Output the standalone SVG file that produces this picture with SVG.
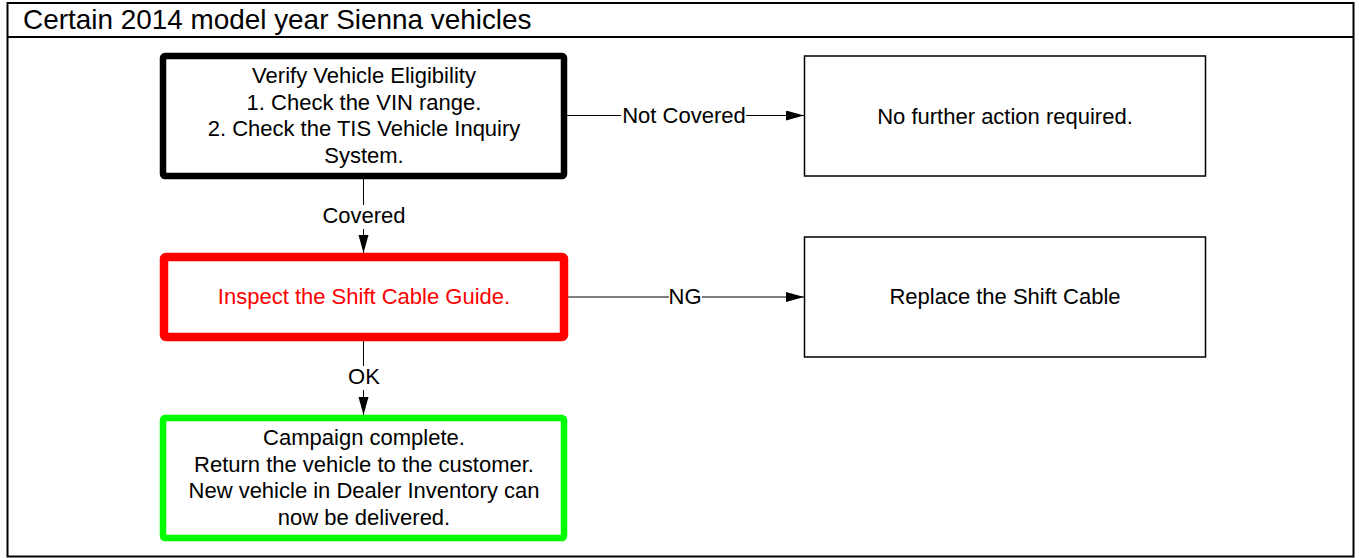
<svg xmlns="http://www.w3.org/2000/svg" width="1359" height="558" viewBox="0 0 1359 558">
<style>
text{font-family:"Liberation Sans",Arial,sans-serif;font-size:22px;fill:#000;text-anchor:middle}
.title{font-size:27.9px;text-anchor:start}
.thin{fill:#fff;stroke:#000;stroke-width:1.5}
.thick{fill:#fff;stroke-linejoin:round}
.conn{fill:none;stroke:#000;stroke-width:1}
.lbl{fill:#fff;stroke:none}
</style>
<defs>
<marker id="arr" markerWidth="19" markerHeight="11" refX="18" refY="5" orient="auto" markerUnits="userSpaceOnUse">
<path d="M0,0 L18,5 L0,10 Z" fill="#000"/>
</marker>
</defs>
<rect x="0" y="0" width="1359" height="558" fill="#fff"/>
<g id="frame">
<rect x="7.5" y="3" width="1346" height="553.5" fill="none" stroke="#000" stroke-width="2"/>
<line x1="7.5" y1="37" x2="1353.5" y2="37" stroke="#000" stroke-width="2"/>
<text class="title" x="23" y="29">Certain 2014 model year Sienna vehicles</text>
</g>
<g id="connectors">
<path class="conn" d="M567,115.5 L804,115.5" marker-end="url(#arr)"/>
<rect class="lbl" x="621" y="103" width="125" height="24"/>
<text x="684" y="123">Not Covered</text>
<path class="conn" d="M568,297 L804,297" marker-end="url(#arr)"/>
<rect class="lbl" x="669" y="285" width="33" height="24"/>
<text x="685" y="304">NG</text>
<path class="conn" d="M363.5,179 L363.5,253" marker-end="url(#arr)"/>
<rect class="lbl" x="320" y="205" width="88" height="24"/>
<text x="364" y="223">Covered</text>
<path class="conn" d="M363.5,341 L363.5,415" marker-end="url(#arr)"/>
<rect class="lbl" x="345" y="366" width="38" height="24"/>
<text x="364" y="384">OK</text>
</g>
<g id="verify">
<rect class="thick" x="163" y="56" width="401" height="120" rx="2" stroke="#000" stroke-width="6.5"/>
<text x="364" y="83">Verify Vehicle Eligibility</text>
<text x="364" y="109.5">1. Check the VIN range.</text>
<text x="364" y="136">2. Check the TIS Vehicle Inquiry</text>
<text x="364" y="162.5">System.</text>
</g>
<g id="no-action">
<rect class="thin" x="804.5" y="56" width="401" height="120"/>
<text x="1005" y="123.5">No further action required.</text>
</g>
<g id="inspect">
<rect class="thick" x="164" y="257" width="400" height="80" rx="2" stroke="#ff0000" stroke-width="8.5"/>
<text x="364" y="304" style="fill:#ff0000">Inspect the Shift Cable Guide.</text>
</g>
<g id="replace">
<rect class="thin" x="804.5" y="237" width="401" height="120"/>
<text x="1005" y="304">Replace the Shift Cable</text>
</g>
<g id="complete">
<rect class="thick" x="163" y="418" width="401" height="120" rx="2" stroke="#00ff00" stroke-width="6.5"/>
<text x="364" y="445">Campaign complete.</text>
<text x="364" y="471.5">Return the vehicle to the customer.</text>
<text x="364" y="498">New vehicle in Dealer Inventory can</text>
<text x="364" y="524.5">now be delivered.</text>
</g>
</svg>
